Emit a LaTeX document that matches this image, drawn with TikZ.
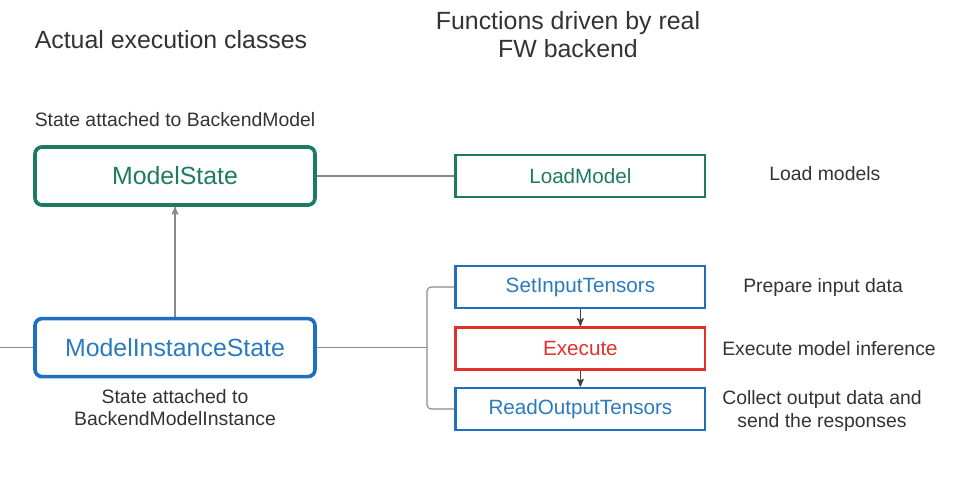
\documentclass[tikz,border=0pt]{standalone}
\usepackage{fontspec}
\setmainfont{Liberation Sans}
\usetikzlibrary{positioning}
\usetikzlibrary{arrows}
\definecolor{stgreen}{HTML}{1E7B62}
\definecolor{stblue}{HTML}{1F6FBF}
\definecolor{txblue}{HTML}{2A7AC0}
\definecolor{stred}{HTML}{E0322A}
\definecolor{lngray}{HTML}{8A8A8A}
\definecolor{txgray}{HTML}{333333}
\tikzset{>=stealth'}
\tikzset{cls/.style={draw, rounded corners=5pt, line width=2.6pt, minimum width=7cm, minimum height=1.45cm, inner sep=0pt, font=\fontsize{17.7}{20}\selectfont}}
\tikzset{fn/.style={draw, line width=2pt, minimum width=6.225cm, minimum height=1.05cm, inner sep=0pt, font=\fontsize{14.7}{17}\selectfont}}
\tikzset{note/.style={font=\fontsize{13.8}{16}\selectfont, inner sep=0pt, text=txgray}}
\tikzset{conn/.style={draw=lngray, line width=0.8pt}}

\begin{document}
\begin{tikzpicture}
        \useasboundingbox (0,0) rectangle (24.1,-12.15);
        \begin{scope}[on grid]

        \node[font=\fontsize{17.7}{20}\selectfont, text=txgray] (head1) at (4.275,-1.0) {Actual execution classes};
        \node[font=\fontsize{17.7}{20}\selectfont, text=txgray, align=center] (head2) at (14.2,-0.875) {Functions driven by real\\FW backend};

        \node[cls, draw=stgreen, text=stgreen] (ms) at (4.375,-4.4) {ModelState};
        \node[cls, draw=stblue, text=txblue] (mis) at (4.375,-8.69) {ModelInstanceState};

        \node[note, above=1.4 of ms] (msnote) {State attached to BackendModel};
        \node[note, align=center, below=1.5 of mis] (misnote) {State attached to\\BackendModelInstance};

        \node[fn, draw=stgreen, text=stgreen] (load) at (14.51,-4.4) {LoadModel};
        \node[fn, draw=stblue, text=txblue] (set) at (14.51,-7.175) {SetInputTensors};
        \node[fn, draw=stred, text=stred, below=1.535 of set] (exec) {Execute};
        \node[fn, draw=stblue, text=txblue, below=1.515 of exec] (read) {ReadOutputTensors};

        \node[note, anchor=west] (loadnote) at (19.225,-4.35) {Load models};
        \node[note, anchor=west] (setnote) at (18.575,-7.175) {Prepare input data};
        \node[note, anchor=west] (execnote) at (18.05,-8.725) {Execute model inference};
        \node[note, anchor=west, align=center] (readnote) at (18.05,-10.275) {Collect output data and\\send the responses};

        \coordinate (in) at (0,-8.69);
        \coordinate (br) at (10.675,-8.69);

        \draw[conn] (in) -- (mis.west);
        \draw[conn] (ms.east) -- (load.west);
        \draw[conn, ->, line width=1pt] (mis.north) -- (ms.south);
        \draw[conn] (mis.east) -- (br);
        \draw[conn, rounded corners=3pt] (set.west) -| (br) |- (read.west);

        \draw[conn, ->, draw=darkgray, line width=1pt] (set.south) -- (exec.north);
        \draw[conn, ->, draw=darkgray, line width=1pt] (exec.south) -- (read.north);
        \end{scope}
\end{tikzpicture}
\end{document}
